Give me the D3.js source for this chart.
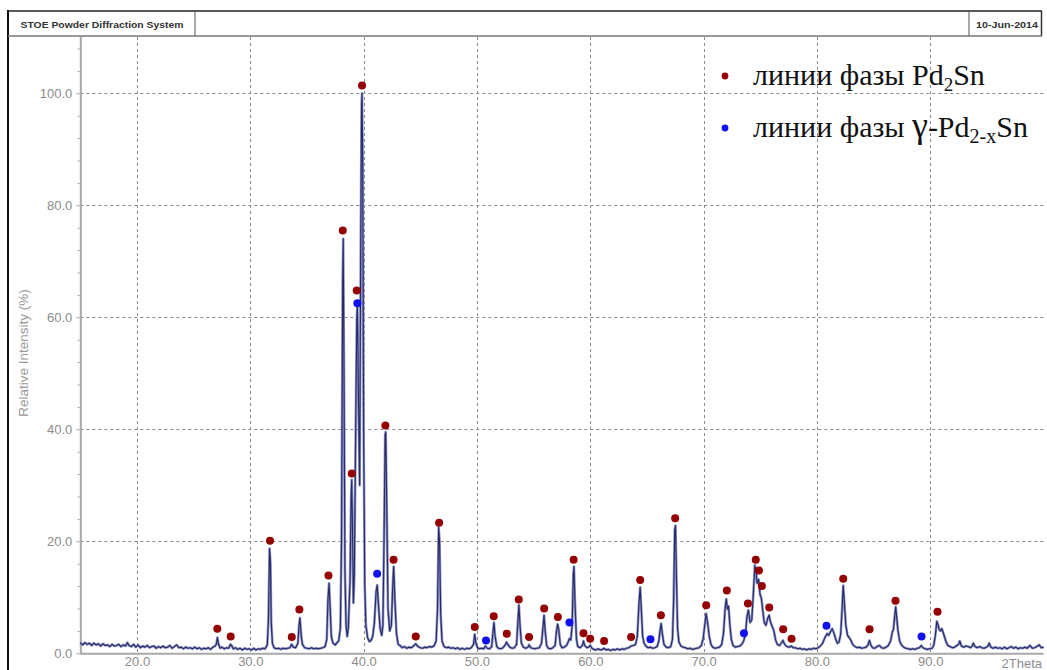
<!DOCTYPE html>
<html>
<head>
<meta charset="utf-8">
<script src="https://cdn.jsdelivr.net/npm/d3@7/dist/d3.min.js"></script>
<style>
  html, body { margin: 0; padding: 0; background: #fff; }
  svg { display: block; }
</style>
</head>
<body>
<svg id="chart" width="1047" height="670"></svg>
<script>
// Powder diffraction scan: [2Theta, relative intensity %]
const scanLowAngle = [
  [15.0,1.9],[15.2,1.5],[15.4,1.9],[15.6,1.6],[15.8,1.8],[16.0,1.4],[16.2,1.8],[16.4,1.5],[16.6,1.7],[16.8,1.3],
  [17.0,1.7],[17.2,1.4],[17.4,1.5],[17.6,1.2],[17.8,1.6],[18.0,1.3],[18.2,1.4],[18.4,1.6],[18.6,1.2],[18.8,1.5],
  [19.0,1.3],[19.15,1.9],[19.3,1.4],[19.5,1.2],[19.7,1.6],[19.9,1.1],[20.1,1.5],[20.3,1.0],[20.5,1.3],[20.7,1.1],
  [20.9,1.4],[21.1,1.0],[21.3,1.2],[21.5,1.3],[21.7,0.9],[21.9,1.2],[22.1,1.0],[22.3,1.3],[22.5,1.0],[22.7,1.1],
  [22.9,1.4],[23.1,0.9],[23.3,1.2],[23.5,1.5],[23.7,1.0],[23.9,1.1],[24.1,0.8],[24.3,1.1],[24.5,0.9],[24.7,1.0],
  [24.9,0.8],[25.1,1.1],[25.3,0.8],[25.5,1.0],[25.7,0.7],[25.9,0.9],[26.1,0.8],[26.3,1.0],[26.5,0.7],[26.7,1.1],
  [26.9,1.3],[27.0,1.6],[27.1,2.8],[27.2,1.6],[27.35,0.9],[27.5,1.1],[27.7,0.8],[27.9,1.0],[28.1,0.9],[28.25,1.6],
  [28.35,1.4],[28.5,0.8],[28.7,1.0],[28.9,0.7],[29.1,0.9],[29.3,0.6],[29.5,0.9],[29.7,0.7],[29.9,0.8],[30.1,0.6],
  [30.3,0.9],[30.5,0.6],[30.7,0.8],[30.9,0.7],[31.1,0.9],[31.3,0.8],[31.5,1.5],[31.6,6.0],[31.7,18.7],[31.78,16.0],
  [31.85,5.5],[31.95,1.8],[32.1,1.0],[32.3,0.8],[32.5,0.9],[32.7,0.7],[32.9,0.9],[33.1,0.8],[33.3,0.9],[33.5,1.0],
  [33.65,1.6],[33.8,1.1],[34.0,1.0],[34.2,1.8],[34.3,5.0],[34.38,6.3],[34.5,3.0],[34.6,1.6],[34.8,1.0],[35.0,0.9],
  [35.2,0.8],[35.4,1.0],[35.6,0.8],[35.8,0.9],[36.0,0.8],[36.2,0.9],[36.4,1.0],[36.6,1.2],[36.75,2.5],[36.85,9.5],
  [36.95,12.5],[37.05,8.0],[37.15,3.0],[37.3,1.8],[37.5,1.5],[37.65,1.9],[37.8,2.2]
];
const scanMainPeaks = [
  [37.95,4.5],[38.05,20],[38.15,66],[38.2,74],[38.27,50],[38.35,15],[38.45,5],[38.55,3.0],[38.65,4.5],[38.8,13],
  [38.9,28],[38.95,31],[39.02,22],[39.1,9],[39.18,14],[39.3,40],[39.4,60],[39.45,62],[39.55,45],[39.65,30],
  [39.75,75],[39.82,98],[39.86,100],[39.92,88],[40.0,40],[40.1,12],[40.2,5],[40.35,2.8],[40.5,2.1],[40.65,2.3],
  [40.8,3.0],[40.95,5.5],[41.1,11],[41.2,12.2],[41.3,9],[41.45,4.5],[41.6,3.2],[41.7,5],[41.8,20],[41.9,39],
  [41.95,39.5],[42.05,25],[42.15,8],[42.3,4.0],[42.45,5],[42.55,11],[42.65,15.5],[42.75,10],[42.9,3.5],[43.05,1.6],
  [43.2,1.4],[43.4,1.0],[43.6,1.2],[43.8,0.9],[44.0,1.1],[44.2,1.0],[44.4,1.3],[44.6,1.7],[44.8,1.2],[45.0,1.0],
  [45.2,0.9],[45.4,1.1],[45.6,1.0],[45.8,1.2],[46.0,1.1],[46.2,1.3],[46.4,2.2],[46.52,8],[46.62,22.5],[46.7,20],
  [46.8,7],[46.92,2.2],[47.1,1.2],[47.3,1.0],[47.5,1.1],[47.7,0.9],[47.9,1.0],[48.1,0.8],[48.3,1.0],[48.5,0.7],
  [48.7,0.9],[48.9,0.7],[49.1,0.9],[49.3,0.8],[49.5,1.0],[49.7,1.6],[49.8,3.4],[49.9,1.9],[50.05,1.0],[50.2,0.8],
  [50.4,0.9],[50.6,0.8],[50.75,1.3],[50.9,0.9],[51.1,0.8],[51.3,1.2],[51.4,3.5],[51.5,5.5],[51.6,3.0],[51.75,1.2],
  [51.9,0.9],[52.1,0.8],[52.3,1.0],[52.5,1.5],[52.6,2.0],[52.75,1.5],[52.9,1.1],[53.1,0.9],[53.3,1.0],[53.5,1.6],
  [53.62,6],[53.7,8.6],[53.8,5],[53.92,1.8],[54.1,1.1],[54.3,0.9],[54.5,1.1],[54.6,1.5],[54.75,1.0],[54.9,0.9],
  [55.1,0.8],[55.3,0.9],[55.5,1.0],[55.7,1.8],[55.82,4.5],[55.92,6.8],[56.02,4.0],[56.15,1.4],[56.3,0.9],[56.5,0.8],
  [56.7,1.0],[56.9,1.4],[57.02,4.0],[57.12,5.2],[57.22,4.2],[57.35,1.6],[57.5,1.0],[57.7,1.1],[57.9,1.4],[58.05,2.0],
  [58.15,2.6],[58.28,2.4],[58.4,5],[58.5,14],[58.56,15.5],[58.65,9],[58.78,2.5],[58.9,1.2],[59.1,1.0],[59.3,1.4],
  [59.4,2.2],[59.5,1.4],[59.7,1.0],[59.85,1.1],[60.0,1.4],[60.15,0.9],[60.3,0.7]
];
const scanHighAngle = [
  [60.5,0.6],[60.7,0.8],[60.9,0.6],[61.1,0.7],[61.2,0.9],[61.4,0.6],[61.6,0.7],[61.8,0.5],[62.0,0.7],[62.2,0.6],
  [62.4,0.8],[62.6,0.6],[62.8,0.8],[63.0,0.7],[63.2,0.9],[63.4,1.0],[63.6,1.3],[63.8,1.4],[64.0,1.6],[64.15,3],
  [64.3,9],[64.4,11.8],[64.5,8],[64.62,3.0],[64.75,1.8],[64.9,1.3],[65.1,1.0],[65.3,1.1],[65.5,0.9],[65.7,1.0],
  [65.9,1.2],[66.05,2.2],[66.15,4],[66.25,5.3],[66.35,3.6],[66.5,1.6],[66.7,1.1],[66.9,1.0],[67.1,1.2],[67.25,2.5],
  [67.35,9],[67.45,22],[67.52,22.8],[67.6,14],[67.7,4.5],[67.82,2.0],[68.0,1.3],[68.2,1.1],[68.4,1.0],[68.6,0.8],
  [68.8,0.9],[69.0,0.7],[69.2,0.8],[69.4,0.9],[69.6,1.0],[69.8,1.4],[69.95,2.5],[70.1,5],[70.22,7.1],[70.35,5.5],
  [70.5,3.0],[70.65,1.6],[70.8,1.1],[71.0,0.9],[71.2,1.0],[71.4,1.1],[71.6,1.6],[71.75,3.5],[71.9,8],[72.0,9.7],
  [72.1,7.9],[72.2,8.4],[72.32,5],[72.45,2.4],[72.6,1.4],[72.8,1.1],[73.0,1.2],[73.2,1.3],[73.4,1.7],[73.55,2.3],
  [73.7,3.5],[73.82,6.5],[73.95,7.7],[74.1,5.5],[74.25,6],[74.4,11],[74.52,15.7],[74.62,14.8],[74.72,12.5],[74.85,13.2],
  [74.98,10.5],[75.1,9.8],[75.2,8],[75.35,5.5],[75.5,5.0],[75.65,6.2],[75.78,6.8],[75.9,5.6],[76.05,4.8],[76.2,4.0],
  [76.35,2.4],[76.5,1.6],[76.7,1.4],[76.85,1.8],[77.0,2.3],[77.15,1.6],[77.35,1.2],[77.55,1.1],[77.75,1.3],[77.9,1.0],
  [78.1,1.0],[78.3,0.8],[78.5,0.9],[78.7,0.7],[78.9,0.8],[79.1,0.6],[79.3,0.8],[79.5,0.7],[79.7,0.9],[79.9,0.8],
  [80.1,1.0],[80.3,1.3],[80.5,1.8],[80.7,2.8],[80.9,3.5],[81.05,3.2],[81.2,3.9],[81.35,4.4],[81.5,3.6],[81.65,2.6],
  [81.8,1.8],[81.95,2.0],[82.1,3.5],[82.22,8],[82.32,12.1],[82.42,9],[82.55,5],[82.7,3.2],[82.85,2.8],[83.0,2.3],
  [83.15,1.6],[83.35,1.2],[83.55,1.0],[83.75,1.1],[83.95,0.9],[84.15,1.0],[84.35,1.1],[84.5,1.5],[84.63,2.3],[84.75,1.5],
  [84.9,1.0],[85.1,0.9],[85.3,1.2],[85.5,1.4],[85.7,1.0],[85.9,0.9],[86.1,1.1],[86.3,1.4],[86.5,2.2],[86.65,3.8],
  [86.75,4.2],[86.85,6.5],[86.95,8.3],[87.05,6.2],[87.15,4.0],[87.3,2.2],[87.45,1.5],[87.65,1.1],[87.85,0.9],[88.05,0.8],
  [88.25,0.7],[88.45,0.8],[88.65,0.7],[88.85,0.9],[89.05,1.0],[89.2,1.4],[89.35,1.0],[89.55,0.8],[89.75,0.7],[89.95,0.8],
  [90.15,0.9],[90.3,1.4],[90.45,3.2],[90.58,5.7],[90.7,5.0],[90.8,4.2],[90.9,4.0],[91.02,4.4],[91.12,3.8],[91.25,3.0],
  [91.4,2.0],[91.55,1.4],[91.75,1.2],[91.95,1.0],[92.15,1.1],[92.35,1.4],[92.5,1.6],[92.6,2.2],[92.75,1.3],[92.95,1.1],
  [93.15,1.3],[93.35,1.2],[93.55,1.0],[93.7,1.3],[93.8,1.8],[93.95,1.2],[94.15,1.0],[94.35,1.2],[94.55,1.0],[94.75,0.9],
  [94.95,1.1],[95.1,1.3],[95.2,1.8],[95.35,1.1],[95.55,0.9],[95.75,1.1],[95.95,0.9],[96.15,1.0],[96.35,0.8],[96.55,1.1],
  [96.75,0.8],[96.95,1.0],[97.15,1.2],[97.35,0.9],[97.55,1.1],[97.75,0.8],[97.95,1.0],[98.15,0.9],[98.35,1.1],[98.55,0.9],
  [98.8,1.4],[99.0,0.9],[99.2,1.0],[99.4,1.2],[99.6,1.5],[99.8,1.0],[100.0,1.1]
];

// Reflection positions of the two phases: [2Theta, intensity]
const linesPd2Sn = [
  [27.09,4.4],[28.27,3.0],[31.74,20.1],[33.66,2.9],[34.33,7.8],[36.90,13.9],[38.16,75.5],[38.95,32.1],
  [39.39,64.8],[39.86,101.4],[41.92,40.7],[42.64,16.7],[44.60,3.0],[46.66,23.3],[49.81,4.7],[51.48,6.6],
  [52.63,3.5],[53.69,9.6],[54.60,2.9],[55.93,8.0],[57.14,6.5],[58.53,16.7],[59.40,3.6],[59.99,2.6],
  [61.22,2.2],[63.60,2.9],[64.40,13.1],[66.23,6.8],[67.49,24.1],[70.23,8.6],[72.05,11.2],[73.91,8.9],
  [74.60,16.7],[74.88,14.8],[75.14,12.0],[75.79,8.2],[77.02,4.3],[77.76,2.6],[82.32,13.3],[84.64,4.3],
  [86.93,9.4],[90.64,7.4]
];
const linesGammaPd2xSn = [
  [39.45,62.5],[41.19,14.2],[50.80,2.3],[58.16,5.5],[65.31,2.5],[73.56,3.6],[80.84,4.9],[89.23,3.0]
];

const yTicks = [0, 20, 40, 60, 80, 100];
const xTicks = [20, 30, 40, 50, 60, 70, 80, 90];
const headerTitle = "STOE Powder Diffraction System";
const headerDate = "10-Jun-2014";
const yTitle = "Relative Intensity (%)";
const xTitle = "2Theta";

const scan = scanLowAngle.concat(scanMainPeaks, scanHighAngle);

const svg = d3.select("#chart");
const W = 1047, H = 670;
const plot = { left: 80.3, right: 1043.6, top: 37, bottom: 653.3 };

const x = d3.scaleLinear().domain([15, 100]).range([plot.left, plot.right]);
const y = d3.scaleLinear().domain([0, 110]).range([plot.bottom, plot.bottom - 110 * 5.6]);

const labelFont = "'Liberation Sans', Arial, Helvetica, sans-serif";
const grey = "#8c8c8c";

// Outer frame and header strip
const frame = svg.append("g");
frame.append("line").attr("x1", 8).attr("x2", 8).attr("y1", 10).attr("y2", H)
  .attr("stroke", "#111").attr("stroke-width", 2);
frame.append("line").attr("x1", 8).attr("x2", 1042).attr("y1", 11).attr("y2", 11)
  .attr("stroke", "#222").attr("stroke-width", 1.5);
frame.append("line").attr("x1", 1041.5).attr("x2", 1041.5).attr("y1", 11).attr("y2", 36)
  .attr("stroke", "#333").attr("stroke-width", 1.5);
frame.append("line").attr("x1", 8).attr("x2", 1042).attr("y1", 36).attr("y2", 36)
  .attr("stroke", "#777").attr("stroke-width", 1.5);
frame.append("line").attr("x1", 195).attr("x2", 195).attr("y1", 11).attr("y2", 36)
  .attr("stroke", "#555").attr("stroke-width", 1);
frame.append("line").attr("x1", 969).attr("x2", 969).attr("y1", 11).attr("y2", 36)
  .attr("stroke", "#555").attr("stroke-width", 1);
frame.append("text").attr("x", 20.5).attr("y", 28).text(headerTitle)
  .attr("font-family", labelFont).attr("font-weight", "bold").attr("font-size", 9.5)
  .attr("fill", "#333").attr("textLength", 163).attr("lengthAdjust", "spacingAndGlyphs");
frame.append("text").attr("x", 976).attr("y", 28).text(headerDate)
  .attr("font-family", labelFont).attr("font-weight", "bold").attr("font-size", 9.5)
  .attr("fill", "#333").attr("textLength", 62).attr("lengthAdjust", "spacingAndGlyphs");

// Dashed grid
const grid = svg.append("g").attr("stroke", "#8a8a8a").attr("stroke-width", 1)
  .attr("stroke-dasharray", "3,3");
grid.selectAll("line.gx").data(xTicks).join("line").attr("class", "gx")
  .attr("x1", d => Math.round(x(d)) + 0.5).attr("x2", d => Math.round(x(d)) + 0.5)
  .attr("y1", plot.top).attr("y2", plot.bottom);
grid.selectAll("line.gy").data(yTicks.filter(d => d > 0)).join("line").attr("class", "gy")
  .attr("x1", plot.left).attr("x2", plot.right)
  .attr("y1", d => Math.round(y(d)) + 0.5).attr("y2", d => Math.round(y(d)) + 0.5);

// Y axis with minor ticks every 4 %
const yMinor = d3.range(0, 110, 4).filter(v => v % 20 !== 0);
svg.append("g").attr("transform", `translate(${plot.left},0)`)
  .call(d3.axisLeft(y).tickValues(yMinor).tickFormat("").tickSize(3))
  .call(g => g.select(".domain").remove())
  .selectAll("line").attr("stroke", "#b0b0b0");
const yAxisG = svg.append("g").attr("transform", `translate(${plot.left},0)`);
yAxisG.call(d3.axisLeft(y).tickValues(yTicks).tickFormat(d3.format(".1f")).tickSize(4).tickPadding(4));
yAxisG.select(".domain").attr("stroke", "#a8a8a8").attr("stroke-width", 2)
  .attr("d", `M0.5,${plot.top}V${plot.bottom}`);
yAxisG.selectAll(".tick line").attr("stroke", "#a8a8a8");
yAxisG.selectAll(".tick text").attr("font-family", labelFont).attr("font-size", 13)
  .attr("fill", grey);

// X axis
const xAxisG = svg.append("g").attr("transform", `translate(0,${plot.bottom})`);
xAxisG.call(d3.axisBottom(x).tickValues(xTicks).tickFormat(d3.format(".1f")).tickSize(0).tickPadding(3));
xAxisG.select(".domain").attr("stroke", "#a8a8a8").attr("stroke-width", 2)
  .attr("d", `M${plot.left},0.5H${plot.right}`);
xAxisG.selectAll(".tick text").attr("font-family", labelFont).attr("font-size", 13)
  .attr("fill", grey);
xAxisG.append("text").attr("x", 1042).attr("y", 14.5).attr("text-anchor", "end")
  .attr("font-family", labelFont).attr("font-size", 13).attr("fill", grey).text(xTitle);

// Y title
svg.append("text").attr("transform", `translate(28,353) rotate(-90)`)
  .attr("text-anchor", "middle").attr("font-family", labelFont).attr("font-size", 13.5)
  .attr("fill", "#999").text(yTitle);

// Diffraction profile
const line = d3.line().x(d => x(d[0])).y(d => y(d[1]));
const prof = svg.append("g").attr("fill", "none").attr("stroke-linejoin", "round");
prof.append("path").datum(scan).attr("d", line)
  .attr("stroke", "#8e94c6").attr("stroke-width", 2.6);
prof.append("path").datum(scan).attr("d", line)
  .attr("stroke", "#262a66").attr("stroke-width", 1.1);

// Phase reflection markers
svg.append("g").selectAll("circle").data(linesPd2Sn).join("circle")
  .attr("cx", d => x(d[0])).attr("cy", d => y(d[1])).attr("r", 4)
  .attr("fill", "#950000");
svg.append("g").selectAll("circle").data(linesGammaPd2xSn).join("circle")
  .attr("cx", d => x(d[0])).attr("cy", d => y(d[1])).attr("r", 4)
  .attr("fill", "#1010f0");

// Legend
const serif = "'Liberation Serif', 'DejaVu Serif', serif";
const legend = svg.append("g");
legend.append("circle").attr("cx", 725).attr("cy", 76).attr("r", 3.4).attr("fill", "#950000");
legend.append("circle").attr("cx", 725).attr("cy", 128).attr("r", 3.4).attr("fill", "#1010f0");
const t1 = legend.append("text").attr("x", 753).attr("y", 85)
  .attr("font-family", serif).attr("font-size", 30).attr("fill", "#111");
t1.append("tspan").text("линии фазы Pd");
t1.append("tspan").attr("font-size", 19).attr("dy", 6).text("2");
t1.append("tspan").attr("dy", -6).text("Sn");
const t2 = legend.append("text").attr("x", 753).attr("y", 137)
  .attr("font-family", serif).attr("font-size", 30).attr("fill", "#111");
t2.append("tspan").text("линии фазы ");
t2.append("tspan").attr("font-size", 36).text("γ");
t2.append("tspan").text("-Pd");
t2.append("tspan").attr("font-size", 20).attr("dy", 6).text("2-x");
t2.append("tspan").attr("dy", -6).text("Sn");
</script>
</body>
</html>
